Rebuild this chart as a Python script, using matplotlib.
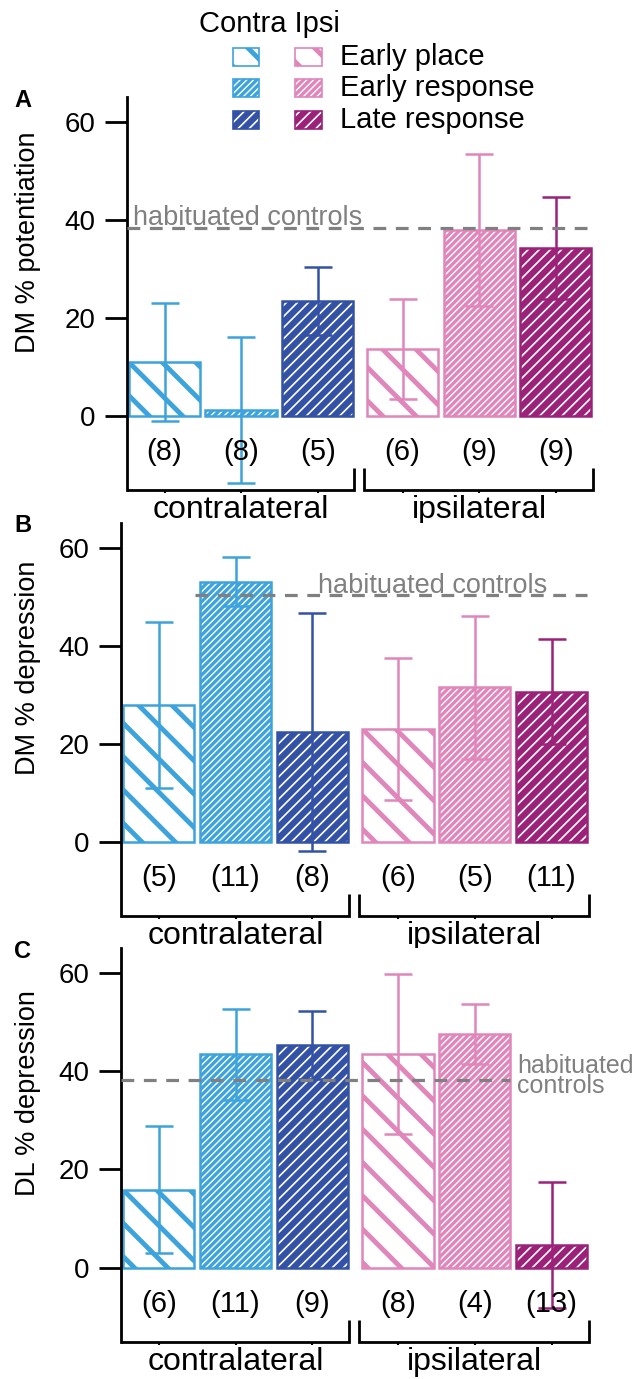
import numpy as np
import matplotlib
matplotlib.use('Agg')
import matplotlib.pyplot as plt
from matplotlib.patches import Rectangle

plt.rcParams['font.family'] = ['Liberation Sans', 'DejaVu Sans']

# ================= 1. data =================
conditions = ['Early place', 'Early response', 'Late response']
sides = ['contralateral', 'ipsilateral']

mean_A = [11.0, 1.2, 23.5, 13.7, 38.0, 34.3]
err_A = [12.1, 14.9, 6.9, 10.2, 15.5, 10.4]
n_A = [8, 8, 5, 6, 9, 9]

mean_B = [27.9, 53.0, 22.4, 23.0, 31.5, 30.6]
err_B = [16.9, 5.0, 24.3, 14.5, 14.5, 10.7]
n_B = [5, 11, 8, 6, 5, 11]

mean_C = [15.9, 43.4, 45.3, 43.4, 47.5, 4.6]
err_C = [13.0, 9.3, 6.9, 16.3, 6.1, 12.8]
n_C = [6, 11, 9, 8, 4, 13]

hab_A, hab_B, hab_C = 38.4, 50.3, 38.2

ylabels = ['DM % potentiation', 'DM % depression', 'DL % depression']
letters = ['A', 'B', 'C']
yticks = [0, 20, 40, 60]

# ================= 2. style =================
contra_colors = ['#3da3dc', '#3da3dc', '#3452a5']
ipsi_colors = ['#e086bb', '#e086bb', '#9b2278']
colors = contra_colors + ipsi_colors
styles = ['place', 'response', 'late'] * 2
HATCH = {'place': ('\\', 3.5), 'response': ('/////', 1.0), 'late': ('///', 1.2)}
GRAY = '#808080'

W, H, DPI = 639, 1379, 100
xpos = np.array([0, 1, 2, 3.11, 4.11, 5.11])
BAR_W = 0.93
XLIM = (-0.49, 5.61)
YLIM = (-15.1, 65)

# axes boxes in pixels: left, right, top, bottom
panel_px = [(127, 594, 97.5, 490), (121, 590, 523, 916), (121, 590, 948, 1342)]


def fig_rect(l, r, t, b):
    return [l / W, 1 - b / H, (r - l) / W, (b - t) / H]


def hatched(ax, x, y, w, h, c, style, lw=1.8):
    pat, hlw = HATCH[style]
    with plt.rc_context({'hatch.linewidth': hlw}):
        if style == 'place':
            p = Rectangle((x, y), w, h, facecolor='white', edgecolor=c, hatch=pat, linewidth=lw, zorder=2)
            ax.add_patch(p)
        else:
            p = Rectangle((x, y), w, h, facecolor=c, edgecolor='white', hatch=pat, linewidth=0, zorder=2)
            ax.add_patch(p)
            ax.add_patch(Rectangle((x, y), w, h, fill=False, edgecolor=c, linewidth=lw, zorder=2.1))
    if hasattr(p, 'set_hatch_linewidth'):
        p.set_hatch_linewidth(hlw)


fig = plt.figure(figsize=(W / DPI, H / DPI), dpi=DPI)

panels = [(mean_A, err_A, n_A, hab_A), (mean_B, err_B, n_B, hab_B), (mean_C, err_C, n_C, hab_C)]
hab_span = [(-0.49, 5.57), (0.47, 5.57), (-0.49, 4.57)]

for k, (means, errs, ns, hab) in enumerate(panels):
    l, r, t, b = panel_px[k]
    ax = fig.add_axes(fig_rect(l, r, t, b))
    ax.set_xlim(*XLIM)
    ax.set_ylim(*YLIM)

    for i in range(6):
        hatched(ax, xpos[i] - BAR_W / 2, 0, BAR_W, means[i], colors[i], styles[i])
        ax.errorbar(xpos[i], means[i], yerr=errs[i], fmt='none', ecolor=colors[i],
                    elinewidth=1.8, capsize=10, capthick=1.8, zorder=3)
        ax.text(xpos[i], -7.4, f'({ns[i]})', ha='center', va='center', fontsize=21)

    # habituated controls reference
    ax.plot(hab_span[k], [hab, hab], color=GRAY, lw=2.3, ls=(0, (4, 3)), zorder=4)
    if k == 0:
        ax.text(-0.41, hab + 0.6, 'habituated controls', color=GRAY, fontsize=19.5, ha='left', va='baseline')
    elif k == 1:
        ax.text(2.07, hab + 0.4, 'habituated controls', color=GRAY, fontsize=19.5, ha='left', va='baseline')
    else:
        ax.text(4.66, hab + 0.8, 'habituated\ncontrols', color=GRAY, fontsize=18, ha='left',
                va='center', linespacing=0.78)

    # axes
    for s in ['top', 'right', 'bottom']:
        ax.spines[s].set_visible(False)
    ax.spines['left'].set_linewidth(2)
    ax.set_yticks(yticks)
    ax.tick_params(axis='y', length=16, width=2, pad=7, labelsize=20)
    ax.set_xticks(xpos)
    ax.tick_params(axis='x', length=2, width=1.5, labelbottom=False)

    # split x axis bracket
    y0 = YLIM[0]
    ycap = y0 + 4.4
    ax.plot([XLIM[0], 2.47, 2.47], [y0, y0, ycap], color='black', lw=2, clip_on=False,
            solid_joinstyle='miter', solid_capstyle='butt')
    ax.plot([2.61, 2.61, 5.6, 5.6], [ycap, y0, y0, ycap], color='black', lw=2, clip_on=False,
            solid_joinstyle='miter', solid_capstyle='butt')
    for g, side in enumerate(sides):
        ax.annotate(side, xy=(xpos[3 * g:3 * g + 3].mean(), 0), xycoords=('data', 'axes fraction'),
                    xytext=(0, -20), textcoords='offset points', ha='center', va='baseline', fontsize=23)

    ax.set_ylabel(ylabels[k], fontsize=19.5)
    ax.yaxis.set_label_coords((41 - l) / (r - l), (35.5 - YLIM[0]) / (YLIM[1] - YLIM[0]))
    fig.text(14 / W, 1 - (t + 3) / H, letters[k], fontsize=17, fontweight='bold', ha='left', va='center')

# ================= 3. legend =================
lax = fig.add_axes([0, 0, 1, 1])
lax.set_xlim(0, W)
lax.set_ylim(H, 0)
lax.axis('off')
lax.text(199, 32, 'Contra Ipsi', fontsize=21, ha='left', va='baseline')
row_y = [57, 88, 120]
for j, cond in enumerate(conditions):
    hatched(lax, 233, row_y[j] - 9, 26, 18, contra_colors[j], styles[j], lw=1.2)
    hatched(lax, 295, row_y[j] - 9, 27, 18, ipsi_colors[j], styles[j], lw=1.2)
    lax.text(340, row_y[j], cond, fontsize=21, ha='left', va='center')

fig.savefig('out.png', dpi=DPI)
